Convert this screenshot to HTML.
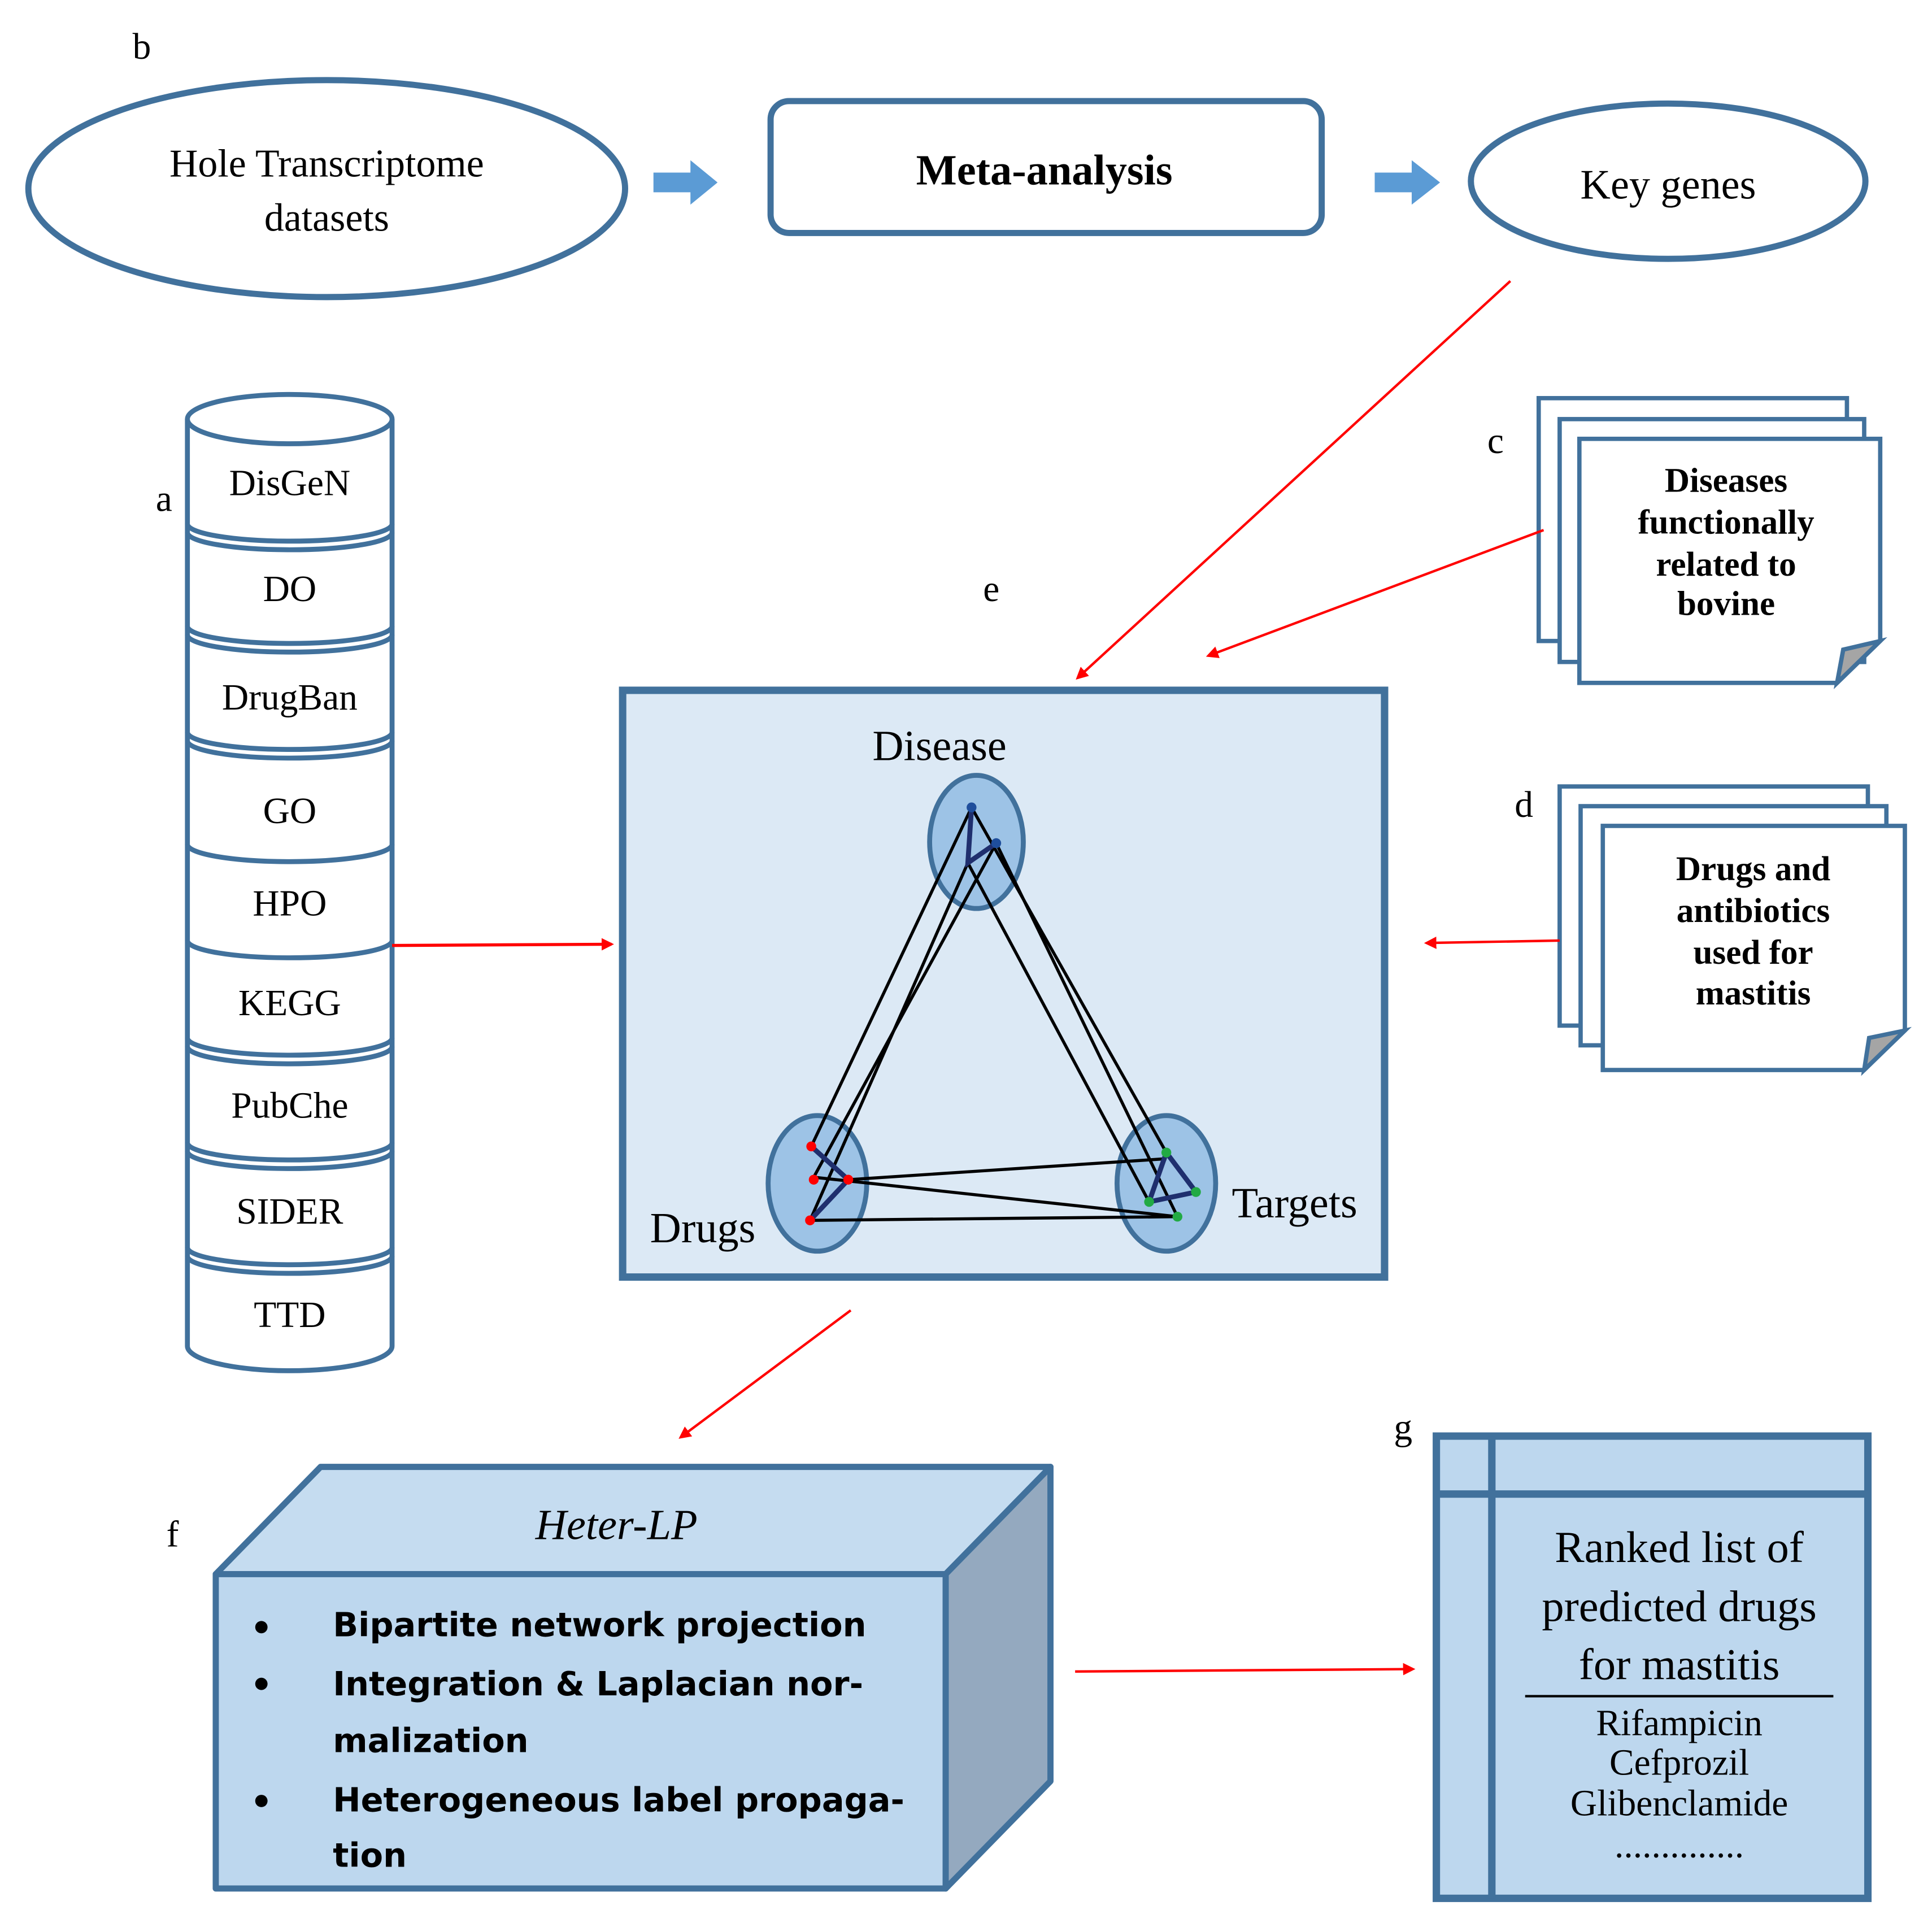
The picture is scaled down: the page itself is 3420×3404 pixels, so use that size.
<!DOCTYPE html>
<html><head><meta charset="utf-8"><style>html,body{margin:0;padding:0;background:#fff}svg{display:block}</style></head>
<body>
<svg width="3420" height="3404" viewBox="0 0 1567 1560" preserveAspectRatio="none" xmlns="http://www.w3.org/2000/svg" font-family="Liberation Serif, serif">
<defs>
<marker id="ra" markerWidth="10" markerHeight="10" refX="8" refY="5" orient="auto" markerUnits="userSpaceOnUse" viewBox="0 0 10 10"><path d="M0,0 L10,5 L0,10 z" fill="#ff0000"/></marker>
</defs>
<g dominant-baseline="central" text-anchor="middle">
<text x="115" y="38" font-size="30" text-anchor="middle">b</text>
<ellipse cx="265" cy="153" rx="242" ry="88" fill="#fff" stroke="#41719c" stroke-width="5"/>
<text x="265" y="133" font-size="32">Hole Transcriptome</text>
<text x="265" y="177" font-size="32">datasets</text>
<path d="M530,140 L560,140 L560,130 L582,148 L560,166 L560,156 L530,156 z" fill="#5b9bd5"/>
<rect x="625" y="82" width="447" height="107" rx="15" fill="#fff" stroke="#41719c" stroke-width="5"/>
<text x="847" y="138" font-size="35" font-weight="bold">Meta-analysis</text>
<path d="M1115,140 L1145,140 L1145,130 L1168,148 L1145,166 L1145,156 L1115,156 z" fill="#5b9bd5"/>
<ellipse cx="1353" cy="147" rx="160" ry="63" fill="#fff" stroke="#41719c" stroke-width="5"/>
<text x="1353" y="150" font-size="34">Key genes</text>
<line x1="1225" y1="228" x2="874" y2="550" stroke="#ff0000" stroke-width="2" marker-end="url(#ra)"/>

<g stroke="#41719c" stroke-width="4" fill="#fff">
<path d="M152,340 L152,1092 A83,20 0 0 0 318,1092 L318,340"/>
<ellipse cx="235" cy="340" rx="83" ry="20"/>
</g>
<g fill="none" stroke="#41719c" stroke-width="4">
<path d="M152,425 A83,14 0 0 0 318,425"/><path d="M152,432 A83,14 0 0 0 318,432"/>
<path d="M152,508 A83,14 0 0 0 318,508"/><path d="M152,515 A83,14 0 0 0 318,515"/>
<path d="M152,594 A83,14 0 0 0 318,594"/><path d="M152,601 A83,14 0 0 0 318,601"/>
<path d="M152,685 A83,14 0 0 0 318,685"/>
<path d="M152,763 A83,14 0 0 0 318,763"/>
<path d="M152,842 A83,14 0 0 0 318,842"/><path d="M152,849 A83,14 0 0 0 318,849"/>
<path d="M152,927 A83,14 0 0 0 318,927"/><path d="M152,934 A83,14 0 0 0 318,934"/>
<path d="M152,1012 A83,14 0 0 0 318,1012"/><path d="M152,1019 A83,14 0 0 0 318,1019"/>
</g>
<g font-size="30">
<text x="235" y="392">DisGeN</text><text x="235" y="478">DO</text><text x="235" y="566">DrugBan</text>
<text x="235" y="658">GO</text><text x="235" y="733">HPO</text><text x="235" y="814">KEGG</text>
<text x="235" y="897">PubChe</text><text x="235" y="983">SIDER</text><text x="235" y="1067">TTD</text>
</g>
<text x="133" y="405" font-size="30">a</text>
<line x1="318" y1="767" x2="496" y2="766" stroke="#ff0000" stroke-width="2.5" marker-end="url(#ra)"/>

<text x="804" y="478" font-size="30">e</text>
<rect x="505" y="560" width="618" height="476" fill="#dce9f5" stroke="#41719c" stroke-width="6"/>
<g fill="#9dc3e6" stroke="#41719c" stroke-width="4">
<ellipse cx="792" cy="683" rx="38" ry="54"/>
<ellipse cx="663" cy="960" rx="40" ry="55"/>
<ellipse cx="946" cy="960" rx="40" ry="55"/>
</g>
<g stroke="#000" stroke-width="2.5" fill="none">
<line x1="788" y1="655" x2="658" y2="930"/>
<line x1="808" y1="684" x2="660" y2="955"/>
<line x1="785" y1="700" x2="657" y2="990"/>
<line x1="788" y1="655" x2="946" y2="935"/>
<line x1="808" y1="684" x2="955" y2="987"/>
<line x1="785" y1="700" x2="932" y2="975"/>
<line x1="688" y1="957" x2="946" y2="940"/>
<line x1="660" y1="955" x2="955" y2="987"/>
<line x1="657" y1="990" x2="955" y2="987"/>
</g>
<g stroke="#1f2f6e" stroke-width="4" fill="none">
<path d="M788,655 L785,700 L808,684"/>
<path d="M658,930 L688,957 L657,990"/>
<path d="M946,935 L970,967 L932,975 Z"/>
</g>
<g fill="#ff0000"><circle cx="658" cy="930" r="4"/><circle cx="660" cy="957" r="4"/><circle cx="688" cy="957" r="4"/><circle cx="657" cy="990" r="4"/></g>
<g fill="#22aa44"><circle cx="946" cy="935" r="4"/><circle cx="970" cy="967" r="4"/><circle cx="932" cy="975" r="4"/><circle cx="955" cy="987" r="4"/></g>
<g fill="#1f4e9c"><circle cx="788" cy="655" r="4"/><circle cx="808" cy="684" r="4"/></g>
<text x="762" y="605" font-size="35">Disease</text>
<text x="570" y="996" font-size="35">Drugs</text>
<text x="1050" y="976" font-size="35">Targets</text>

<text x="1213" y="358" font-size="30">c</text>
<g fill="#fff" stroke="#41719c" stroke-width="3.5">
<rect x="1248" y="323" width="250" height="197"/>
<rect x="1265" y="340" width="247" height="197"/>
<path d="M1281,356 L1525,356 L1525,520 L1490,554 L1281,554 Z"/>
<path d="M1525,520 L1495,527 L1490,554 Z" fill="#a5a5a5"/>
</g>
<g font-size="28" font-weight="bold">
<text x="1400" y="390">Diseases</text><text x="1400" y="424">functionally</text>
<text x="1400" y="458">related to</text><text x="1400" y="490">bovine</text>
</g>
<line x1="1252" y1="430" x2="980" y2="532" stroke="#ff0000" stroke-width="2" marker-end="url(#ra)"/>

<text x="1236" y="653" font-size="30">d</text>
<g fill="#fff" stroke="#41719c" stroke-width="3.5">
<rect x="1265" y="638" width="250" height="194"/>
<rect x="1282" y="654" width="248" height="194"/>
<path d="M1300,670 L1545,670 L1545,836 L1512,868 L1300,868 Z"/>
<path d="M1545,836 L1516,842 L1512,868 Z" fill="#a5a5a5"/>
</g>
<g font-size="28" font-weight="bold">
<text x="1422" y="705">Drugs and</text><text x="1422" y="739">antibiotics</text>
<text x="1422" y="773">used for</text><text x="1422" y="806">mastitis</text>
</g>
<line x1="1265" y1="763" x2="1157" y2="765" stroke="#ff0000" stroke-width="2" marker-end="url(#ra)"/>
<line x1="690" y1="1063" x2="552" y2="1166" stroke="#ff0000" stroke-width="2" marker-end="url(#ra)"/>

<text x="140" y="1245" font-size="30">f</text>
<g stroke="#41719c" stroke-width="5" stroke-linejoin="round">
<path d="M175,1277 L260,1190 L852,1190 L767,1277 Z" fill="#c5dcf0"/>
<path d="M767,1277 L852,1190 L852,1445 L767,1532 Z" fill="#94a9bf"/>
<rect x="175" y="1277" width="592" height="255" fill="#bdd7ee"/>
</g>
<text x="500" y="1237" font-size="35" font-style="italic">Heter-LP</text>
<g font-family="DejaVu Sans, Liberation Sans, sans-serif" font-size="27" font-weight="bold" text-anchor="start">
<text x="270" y="1318">Bipartite network projection</text>
<text x="270" y="1366">Integration &amp; Laplacian nor-</text>
<text x="270" y="1412">malization</text>
<text x="270" y="1460">Heterogeneous label propaga-</text>
<text x="270" y="1505">tion</text>
</g>
<g fill="#000"><circle cx="212" cy="1320" r="5"/><circle cx="212" cy="1366" r="5"/><circle cx="212" cy="1461" r="5"/></g>
<line x1="872" y1="1356" x2="1146" y2="1354" stroke="#ff0000" stroke-width="2" marker-end="url(#ra)"/>

<text x="1138" y="1158" font-size="30">g</text>
<rect x="1165" y="1165" width="350" height="375" fill="#bdd7ee" stroke="#41719c" stroke-width="6"/>
<line x1="1210" y1="1165" x2="1210" y2="1540" stroke="#41719c" stroke-width="6"/>
<line x1="1165" y1="1212" x2="1515" y2="1212" stroke="#41719c" stroke-width="6"/>
<g font-size="36"><text x="1362" y="1255">Ranked list of</text><text x="1362" y="1303">predicted drugs</text><text x="1362" y="1350">for mastitis</text></g>
<line x1="1237" y1="1376" x2="1487" y2="1376" stroke="#000" stroke-width="2"/>
<g font-size="30"><text x="1362" y="1398">Rifampicin</text><text x="1362" y="1430">Cefprozil</text><text x="1362" y="1463">Glibenclamide</text><text x="1362" y="1497">..............</text></g>
</g>
</svg>
</body></html>
